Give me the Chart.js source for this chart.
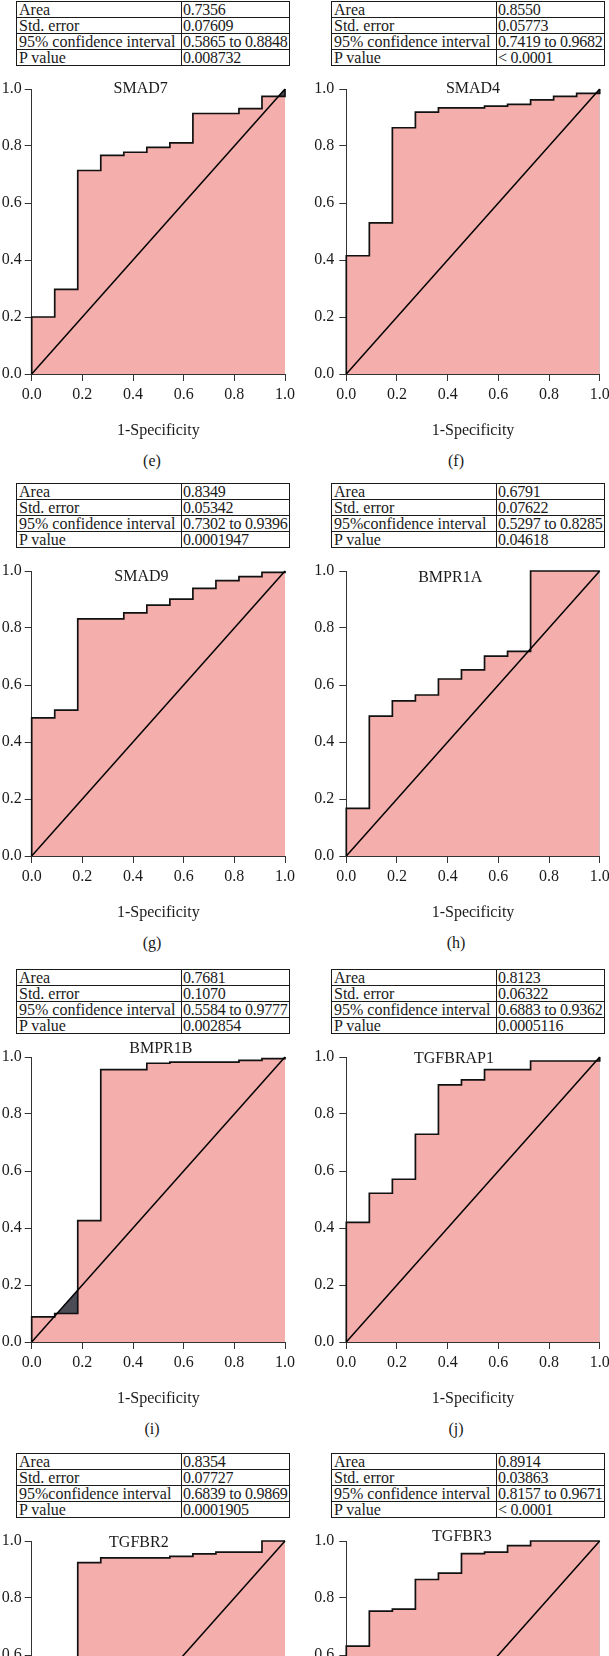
<!DOCTYPE html>
<html>
<head>
<meta charset="utf-8">
<script src="https://cdn.jsdelivr.net/npm/chart.js@4.4.1/dist/chart.umd.min.js"></script>
<style>
    body {
        margin: 0;
        width: 609px;
        height: 1656px;
        overflow: hidden;
        background: #fff;
        position: relative;
        font-family: "Liberation Serif", "DejaVu Serif", serif;
        color: #1a1a1a;
    }
    .panel {
        position: absolute;
        width: 304px;
        height: 484px;
    }
    .stats {
        position: absolute;
        border-collapse: collapse;
        table-layout: fixed;
        width: 274px;
        font-size: 16px;
    }
    .stats td {
        border: 1px solid #1a1a1a;
        height: 15px;
        padding: 0 0 0 2px;
        line-height: 15px;
        white-space: nowrap;
        vertical-align: bottom;
    }
    .stats td:first-child { width: 162px; }
    .stats td:last-child { letter-spacing: -0.25px; padding-left: 1px; }
    .panel canvas { position: absolute; }
    .caption {
        position: absolute;
        width: 304px;
        text-align: center;
        font-size: 16px;
        line-height: 20px;
    }
</style>
</head>
<body>
<script>
// Panel letters and gene names
const panelLetters = ['(e)', '(f)', '(g)', '(h)', '(i)', '(j)', '(k)', '(l)'];
const geneNames = ['SMAD7', 'SMAD4', 'SMAD9', 'BMPR1A', 'BMPR1B', 'TGFBRAP1', 'TGFBR2', 'TGFBR3'];

// Table rows above each ROC plot
const ciLabels = ['95% confidence interval', '95% confidence interval', '95% confidence interval', '95%confidence interval',
    '95% confidence interval', '95% confidence interval', '95%confidence interval', '95% confidence interval'];
const areaValues = ['0.7356', '0.8550', '0.8349', '0.6791', '0.7681', '0.8123', '0.8354', '0.8914'];
const stdErrors = ['0.07609', '0.05773', '0.05342', '0.07622', '0.1070', '0.06322', '0.07727', '0.03863'];
const ciValues = ['0.5865 to 0.8848', '0.7419 to 0.9682', '0.7302 to 0.9396', '0.5297 to 0.8285',
    '0.5584 to 0.9777', '0.6883 to 0.9362', '0.6839 to 0.9869', '0.8157 to 0.9671'];
const pValues = ['0.008732', '< 0.0001', '0.0001947', '0.04618', '0.002854', '0.0005116', '0.0001905', '< 0.0001'];

// ROC curves: 1-specificity where each step happens, sensitivity after the step
const smad7X = [0, 0, 0.0909, 0.1818, 0.2727, 0.3636, 0.4545, 0.5455, 0.6364, 0.8182, 0.9091, 1];
const smad7Y = [0, 0.200, 0.297, 0.714, 0.767, 0.778, 0.795, 0.811, 0.914, 0.931, 0.974, 1];
const smad4X = [0, 0, 0.0909, 0.1818, 0.2727, 0.3636, 0.5455, 0.6364, 0.7273, 0.8182, 0.9091, 1];
const smad4Y = [0, 0.415, 0.530, 0.864, 0.919, 0.934, 0.940, 0.946, 0.962, 0.974, 0.985, 1];
const smad9X = [0, 0, 0.0909, 0.1818, 0.3636, 0.4545, 0.5455, 0.6364, 0.7273, 0.8182, 0.9091, 1];
const smad9Y = [0, 0.485, 0.512, 0.832, 0.853, 0.880, 0.901, 0.939, 0.966, 0.980, 0.995, 1];
const bmpr1aX = [0, 0, 0.0909, 0.1818, 0.2727, 0.3636, 0.4545, 0.5455, 0.6364, 0.7273, 1];
const bmpr1aY = [0, 0.167, 0.491, 0.544, 0.565, 0.621, 0.653, 0.701, 0.718, 1, 1];
const bmpr1bX = [0, 0, 0.0909, 0.1818, 0.2727, 0.4545, 0.5455, 0.8182, 0.9091, 1];
const bmpr1bY = [0, 0.088, 0.100, 0.426, 0.956, 0.978, 0.982, 0.988, 0.994, 1];
const tgfbrap1X = [0, 0, 0.0909, 0.1818, 0.2727, 0.3636, 0.4545, 0.5455, 0.7273, 1];
const tgfbrap1Y = [0, 0.420, 0.522, 0.571, 0.729, 0.902, 0.920, 0.956, 0.986, 1];
const tgfbr2X = [0, 0, 0.0909, 0.1818, 0.2727, 0.5455, 0.6364, 0.7273, 0.9091, 1];
const tgfbr2Y = [0, 0.220, 0.400, 0.924, 0.941, 0.946, 0.955, 0.961, 1, 1];
const tgfbr3X = [0, 0, 0.0909, 0.1818, 0.2727, 0.3636, 0.4545, 0.5455, 0.6364, 0.7273, 1];
const tgfbr3Y = [0, 0.631, 0.754, 0.761, 0.865, 0.887, 0.956, 0.961, 0.984, 1, 1];

// Reference line
const chanceX = [0, 1];
const chanceY = [0, 1];

const rocX = [smad7X, smad4X, smad9X, bmpr1aX, bmpr1bX, tgfbrap1X, tgfbr2X, tgfbr3X];
const rocY = [smad7Y, smad4Y, smad9Y, bmpr1aY, bmpr1bY, tgfbrap1Y, tgfbr2Y, tgfbr3Y];

// Layout only: top of each row, and where each gene name sits in its plot
const rowTops = [0.3, 482, 967.7, 1452];
const nameSpots = [[0.43, 0], [0.5, 0], [0.433, 6], [0.41, 7], [0.51, -8], [0.425, 2], [0.423, 2], [0.456, -4]];

const FONT = '"Liberation Serif", "DejaVu Serif", serif';
const PLOT_H = 285;
const PAD_TOP = 24;

// Draw the gene name inside the top of the plot
const geneLabel = {
    id: 'geneLabel',
    afterDatasetsDraw(chart, args, opts) {
        const { ctx, chartArea: a } = chart;
        ctx.save();
        ctx.font = '16px ' + FONT;
        ctx.fillStyle = '#1a1a1a';
        ctx.textAlign = 'center';
        ctx.textBaseline = 'middle';
        ctx.fillText(opts.text, a.left + opts.fx * (a.right - a.left), a.top + opts.dy);
        ctx.restore();
    }
};

function buildPanel(k) {
    const col = k % 2;
    const row = Math.floor(k / 2);
    const panel = document.createElement('div');
    panel.className = 'panel';
    panel.style.left = (col * 304) + 'px';
    panel.style.top = rowTops[row] + 'px';
    document.body.appendChild(panel);

    // stats table
    const table = document.createElement('table');
    table.className = 'stats';
    table.style.left = (col ? 27 : 16) + 'px';
    table.style.top = '1px';
    const rows = [['Area', areaValues[k]], ['Std. error', stdErrors[k]], [ciLabels[k], ciValues[k]], ['P value', pValues[k]]];
    rows.forEach(r => {
        const tr = document.createElement('tr');
        r.forEach(t => {
            const td = document.createElement('td');
            td.textContent = t;
            tr.appendChild(td);
        });
        table.appendChild(tr);
    });
    panel.appendChild(table);

    // chart canvas
    const canvas = document.createElement('canvas');
    const yWidth = col ? 42.3 : 31.7;
    const rightPad = col ? 9.3 : 19;
    canvas.width = col ? 305 : 304;
    canvas.height = PAD_TOP + PLOT_H + 70 + 2;
    canvas.style.left = '0px';
    canvas.style.top = (89 - PAD_TOP) + 'px';
    panel.appendChild(canvas);

    const caption = document.createElement('div');
    caption.className = 'caption';
    caption.style.left = '0px';
    caption.style.top = (89 + PLOT_H + 87 - 10) + 'px';
    caption.textContent = panelLetters[k];
    panel.appendChild(caption);

    const roc = rocX[k].map((x, i) => ({ x: x, y: rocY[k][i] }));
    const chance = chanceX.map((x, i) => ({ x: x, y: chanceY[i] }));

    new Chart(canvas.getContext('2d'), {
        type: 'line',
        data: {
            datasets: [{
                // diagonal line, on top
                data: chance,
                borderColor: '#000',
                borderWidth: 1.5,
                pointRadius: 0,
                fill: false,
                clip: 4
            }, {
                // ROC curve with pink area
                data: roc,
                stepped: 'before',
                borderColor: '#111',
                borderWidth: 1.7,
                backgroundColor: '#f4aeab',
                pointRadius: 0,
                fill: 'origin',
                clip: 4
            }, {
                // dark area under the diagonal, only shows where it is above the curve
                data: chance,
                borderWidth: 0,
                borderColor: 'rgba(0,0,0,0)',
                backgroundColor: '#4b4c56',
                pointRadius: 0,
                fill: 'origin'
            }]
        },
        options: {
            responsive: false,
            animation: false,
            events: [],
            layout: {
                padding: { top: PAD_TOP, left: 0, right: rightPad, bottom: 2 }
            },
            plugins: {
                legend: { display: false },
                tooltip: { enabled: false },
                geneLabel: { text: geneNames[k], fx: nameSpots[k][0], dy: nameSpots[k][1] }
            },
            scales: {
                x: {
                    type: 'linear',
                    min: 0,
                    max: 1,
                    ticks: {
                        stepSize: 0.2,
                        autoSkip: false,
                        maxRotation: 0,
                        padding: 4,
                        color: '#1a1a1a',
                        font: { family: FONT, size: 16 },
                        callback: v => v.toFixed(1)
                    },
                    grid: { drawOnChartArea: false, drawTicks: true, tickLength: 7, color: '#333' },
                    border: { color: '#333', width: 1 },
                    title: {
                        display: true,
                        text: '1-Specificity',
                        color: '#1a1a1a',
                        font: { family: FONT, size: 16 },
                        padding: { top: 0, bottom: 4 }
                    },
                    afterFit: s => { s.height = 70; s.paddingLeft = 0; s.paddingRight = 0; }
                },
                y: {
                    min: 0,
                    max: 1,
                    ticks: {
                        stepSize: 0.2,
                        padding: col ? 5 : 3,
                        color: '#1a1a1a',
                        font: { family: FONT, size: 16 },
                        callback: v => v.toFixed(1)
                    },
                    grid: { drawOnChartArea: false, drawTicks: true, tickLength: 7, color: '#333' },
                    border: { color: '#333', width: 1 },
                    afterFit: s => { s.width = yWidth; s.paddingTop = 0; s.paddingBottom = 0; }
                }
            }
        },
        plugins: [geneLabel]
    });
}

for (let k = 0; k < geneNames.length; k++) {
    buildPanel(k);
}
</script>
</body>
</html>
